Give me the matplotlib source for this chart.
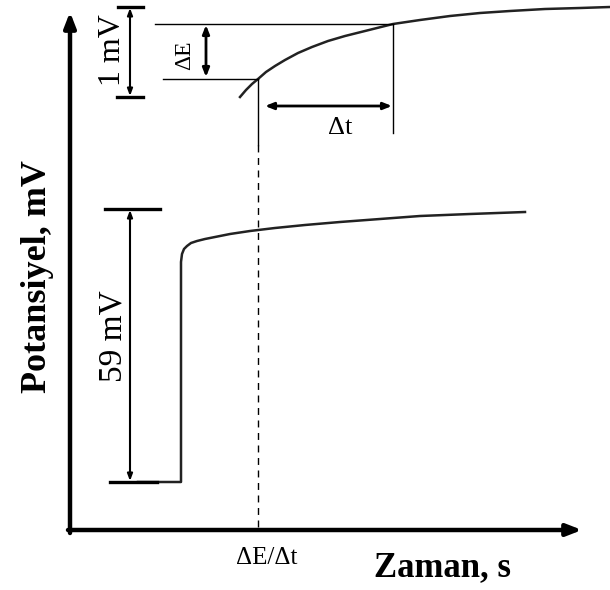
"""Potential-time response sketch with drift criterion."""

import matplotlib.pyplot as plt

plt.rcParams["font.family"] = ["Liberation Serif", "DejaVu Serif"]

# Response curves (time, potential) in drawing units, y grows downward
step_t = [138, 181, 181, 182, 184, 187, 191, 197, 205, 215, 230, 250, 275,
          305, 340, 380, 420, 470, 525]
step_e = [482, 482, 262, 254, 249, 246, 243, 241, 239, 237, 234, 231, 228,
          225, 222, 219, 216, 214, 212]

drift_t = [240, 246, 252, 258, 266, 275, 285, 298, 312, 328, 345, 365, 393,
           420, 450, 480, 510, 545, 580, 610]
drift_e = [97, 90, 84, 79, 72, 66, 60, 53, 47, 41, 36, 31, 24,
           20, 16, 13, 11, 9, 8, 7]

# Marker positions
t_lo, t_hi = 258, 393
e_lo, e_hi = 79, 24
step_top, step_bottom = 209, 482
span_top, span_bottom = 7, 97

fig = plt.figure(figsize=(6.1, 5.9), dpi=100)
axis = fig.add_axes([0, 0, 1, 1])
axis.set_xlim(0, 610)
axis.set_ylim(590, 0)
axis.axis("off")

# Axes with arrow heads
axis.annotate("", xy=(70, 12), xytext=(70, 533),
              arrowprops=dict(arrowstyle="-|>,head_length=0.9,head_width=0.35",
                              lw=3.2, color="black", shrinkA=0, shrinkB=0))
axis.annotate("", xy=(582, 530), xytext=(68, 530),
              arrowprops=dict(arrowstyle="-|>,head_length=0.9,head_width=0.35",
                              lw=3.2, color="black", shrinkA=0, shrinkB=0))

# Curves
axis.plot(step_t, step_e, color="#222222", lw=1.8, solid_joinstyle="round")
axis.plot(drift_t, drift_e, color="#222222", lw=1.8, solid_joinstyle="round")

# Drift construction lines
axis.plot([155, t_hi], [e_hi, e_hi], color="black", lw=1.0)
axis.plot([163, t_lo], [e_lo, e_lo], color="black", lw=1.0)
axis.plot([t_hi, t_hi], [e_hi, 133], color="black", lw=1.0)
axis.plot([t_lo, t_lo], [e_lo, 145], color="black", lw=1.0)
axis.plot([t_lo, t_lo], [145, 530], color="black", lw=1.0,
          linestyle=(0, (5, 4)))

arrow_kw = dict(arrowstyle="<|-|>,head_length=0.5,head_width=0.2",
                lw=2.0, color="black", shrinkA=0, shrinkB=0)
axis.annotate("", xy=(265, 106), xytext=(t_hi - 1, 106), arrowprops=arrow_kw)
axis.annotate("", xy=(206, e_hi + 1), xytext=(206, e_lo - 2), arrowprops=arrow_kw)

# 1 mV span
axis.plot([118, 143], [span_top, span_top], color="black", lw=2.4)
axis.plot([117, 143], [span_bottom, span_bottom], color="black", lw=2.4)
axis.annotate("", xy=(130, span_top + 1), xytext=(130, span_bottom - 1),
              arrowprops=dict(arrowstyle="<|-|>,head_length=0.4,head_width=0.15",
                              lw=1.5, color="black", shrinkA=0, shrinkB=0))

# 59 mV span
axis.plot([105, 160], [step_top, step_top], color="black", lw=2.4)
axis.plot([110, 157], [step_bottom, step_bottom], color="black", lw=2.4)
axis.annotate("", xy=(130, step_top + 1), xytext=(130, step_bottom - 1),
              arrowprops=dict(arrowstyle="<|-|>,head_length=0.4,head_width=0.15",
                              lw=1.5, color="black", shrinkA=0, shrinkB=0))

# Texts
axis.text(112, 50, "1 mV", rotation=90, ha="center", va="center", fontsize=23)
axis.text(185, 55, "ΔE", rotation=90, ha="center", va="center", fontsize=17)
axis.text(340, 128, "Δt", ha="center", va="center", fontsize=19)
axis.text(113, 336, "59 mV", rotation=90, ha="center", va="center", fontsize=24)
axis.text(267, 558, "ΔE/Δt", ha="center", va="center", fontsize=18)
axis.text(443, 568, "Zaman, s", ha="center", va="center", fontsize=25,
          fontweight="bold")
axis.text(38, 277, "Potansiyel, mV", rotation=90, ha="center", va="center",
          fontsize=26, fontweight="bold")

fig.savefig("out.png", dpi=100)
